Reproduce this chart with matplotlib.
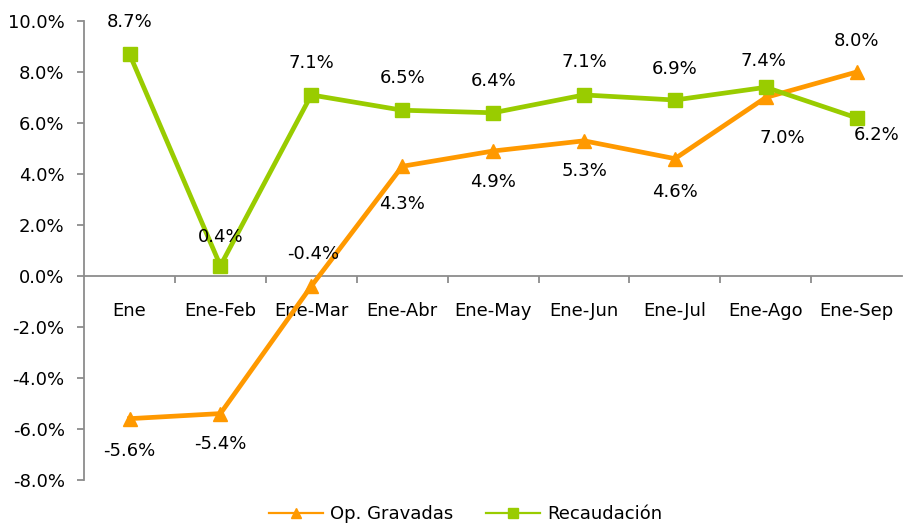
import matplotlib.pyplot as plt
from matplotlib.lines import Line2D
from matplotlib.ticker import FuncFormatter

categories = ["Ene", "Ene-Feb", "Ene-Mar", "Ene-Abr", "Ene-May", "Ene-Jun", "Ene-Jul", "Ene-Ago", "Ene-Sep"]
op_gravadas = [-5.6, -5.4, -0.4, 4.3, 4.9, 5.3, 4.6, 7.0, 8.0]
recaudacion = [8.7, 0.4, 7.1, 6.5, 6.4, 7.1, 6.9, 7.4, 6.2]

# label offsets in points (dx, dy)
op_offsets = [(0, -23), (0, -22), (1, 23), (0, -27), (0, -22), (0, -22), (0, -24), (12, -29), (0, 22)]
rec_offsets = [(0, 23), (0, 21), (0, 23), (0, 23), (0, 23), (0, 24), (0, 22), (-2, 19), (14, -12)]

orange = "#FF9900"
green = "#99CC00"
gray = "#8C8C8C"
fs = 13

plt.rcParams['font.family'] = ['DejaVu Sans']

fig = plt.figure(figsize=(9.04, 5.25), dpi=100)
ax = fig.add_axes([0.093, 0.086, 0.905, 0.874])

x = list(range(len(categories)))
ax.plot(x, op_gravadas, color=orange, linewidth=3.4, marker='^', markersize=10, zorder=3)
ax.plot(x, recaudacion, color=green, linewidth=3.4, marker='s', markersize=9.5, zorder=3)

for i, v in enumerate(op_gravadas):
    dx, dy = op_offsets[i]
    ax.annotate(f"{v:.1f}%", (i, v), xytext=(dx, dy), textcoords='offset points',
                ha='center', va='center', fontsize=fs, color='black', zorder=4)
for i, v in enumerate(recaudacion):
    dx, dy = rec_offsets[i]
    ax.annotate(f"{v:.1f}%", (i, v), xytext=(dx, dy), textcoords='offset points',
                ha='center', va='center', fontsize=fs, color='black', zorder=4)

ax.set_xlim(-0.5, len(categories) - 0.5)
ax.set_ylim(-8, 10)
ax.set_yticks(range(-8, 11, 2))
ax.yaxis.set_major_formatter(FuncFormatter(lambda v, p: f"{v:.1f}%"))

for s in ['top', 'right']:
    ax.spines[s].set_visible(False)
ax.spines['left'].set_color(gray)
ax.spines['left'].set_linewidth(1.3)
ax.spines['bottom'].set_position(('data', 0))
ax.spines['bottom'].set_color(gray)
ax.spines['bottom'].set_linewidth(1.3)

ax.set_xticks([i + 0.5 for i in x[:-1]])
ax.set_xticklabels([])
ax.set_xticks(x, minor=True)
ax.set_xticklabels(categories, minor=True)
ax.tick_params(axis='x', which='major', length=5, width=1.3, color=gray, direction='out')
ax.tick_params(axis='x', which='minor', length=0, pad=19, labelsize=fs)
ax.tick_params(axis='y', length=5, width=1.3, color=gray, pad=9, labelsize=fs)

handles = [
    Line2D([], [], color=orange, linewidth=1.6, marker='^', markersize=7),
    Line2D([], [], color=green, linewidth=1.6, marker='s', markersize=7),
]
fig.legend(handles, ["Op. Gravadas", "Recaudación"], loc='lower center',
           bbox_to_anchor=(0.515, -0.027), ncol=2, frameon=False, fontsize=fs,
           handlelength=3.0, columnspacing=1.8, handletextpad=0.4)

fig.savefig("out.png", dpi=100)
